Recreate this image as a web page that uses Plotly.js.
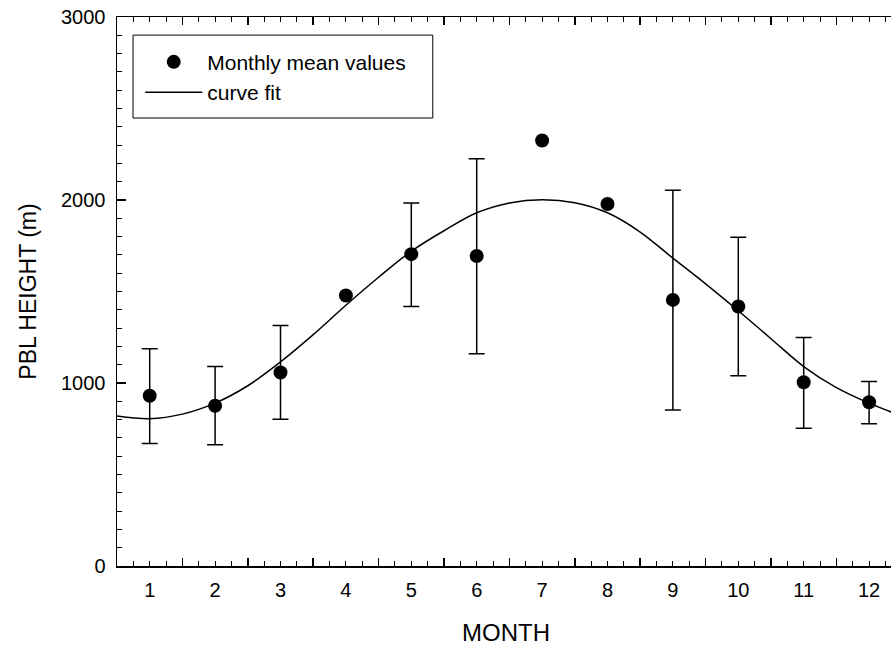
<!DOCTYPE html>
<html>
<head>
<meta charset="utf-8">
<script src="https://cdn.plot.ly/plotly-3.0.1.min.js"></script>
<style>
html,body{margin:0;padding:0;background:#fff;overflow:hidden;}
#chart{width:891px;height:647px;}
</style>
</head>
<body>
<div id="chart"></div>
<script>
// Monthly mean PBL height (m) with error bars (absolute upper / lower ends)
var months      = [1, 2, 3, 4, 5, 6, 7, 8, 9, 10, 11, 12];
var meanValues  = [930, 876, 1057, 1478, 1704, 1694, 2325, 1978, 1454, 1418, 1004, 895];
var errUpper    = [1187, 1090, 1314, null, 1984, 2226, null, null, 2053, 1796, 1249, 1008];
var errLower    = [669, 662, 802, null, 1418, 1160, null, null, 852, 1039, 753, 777];

// Curve fit
var curveMonths = [0.5, 1, 1.5, 2, 2.5, 3, 3.5, 4, 4.5, 5, 5.5, 6, 6.5, 7, 7.5, 8, 8.5, 9, 9.5, 10, 10.5, 11, 11.5, 12, 12.35];
var curveValues = [820, 805, 830, 890, 985, 1115, 1264, 1425, 1578, 1720, 1832, 1930, 1984, 2002, 1985, 1930, 1825, 1682, 1542, 1395, 1242, 1090, 975, 890, 840];

var monthTickLabels = ['1','2','3','4','5','6','7','8','9','10','11','12'];
var yTickVals = [0, 1000, 2000, 3000];
var yTickLabels = ['0', '1000', '2000', '3000'];
var xTitle = 'MONTH';
var yTitle = 'PBL HEIGHT (m)';

// points with error bars
var ebX = [], ebY = [], ebPlus = [], ebMinus = [];
for (var i = 0; i < months.length; i++) {
  if (errUpper[i] !== null) {
    ebX.push(months[i]);
    ebY.push(meanValues[i]);
    ebPlus.push(errUpper[i] - meanValues[i]);
    ebMinus.push(meanValues[i] - errLower[i]);
  }
}

var FONT = 'Liberation Sans, Arial, sans-serif';
var xRange = [0.5, 12.335];

var traces = [
  {
    x: ebX, y: ebY, type: 'scatter', mode: 'markers',
    xaxis: 'x2', yaxis: 'y',
    marker: {size: 1, color: 'rgba(0,0,0,0)'},
    error_y: {type: 'data', symmetric: false, array: ebPlus, arrayminus: ebMinus,
              color: '#000', thickness: 1.5, width: 8},
    showlegend: false, hoverinfo: 'skip'
  },
  {
    x: months, y: meanValues, type: 'scatter', mode: 'markers',
    name: 'Monthly mean values',
    marker: {size: 14, color: '#000', symbol: 'circle'}
  },
  {
    x: curveMonths, y: curveValues, type: 'scatter', mode: 'lines',
    name: 'curve fit',
    line: {color: '#000', width: 1.5, shape: 'spline', smoothing: 1}
  }
];

var layout = {
  width: 891, height: 647,
  margin: {l: 117, r: 0, t: 17, b: 81},
  paper_bgcolor: '#fff', plot_bgcolor: '#fff',
  font: {family: FONT, color: '#000', size: 20},
  showlegend: true,
  xaxis: {
    range: xRange, showgrid: false, zeroline: false, showline: false,
    tickmode: 'array', tickvals: months, ticktext: monthTickLabels,
    ticks: '', ticklabelstandoff: 10,
    tickfont: {family: FONT, size: 20, color: '#000'},
    automargin: false
  },
  xaxis2: {
    overlaying: 'x', anchor: 'y', side: 'bottom',
    range: xRange, showgrid: false, zeroline: false,
    showline: true, linecolor: '#000', linewidth: 1.5, mirror: 'ticks',
    tickmode: 'linear', tick0: 0.5, dtick: 1,
    ticks: 'inside', ticklen: 8, tickwidth: 1.5, tickcolor: '#000',
    showticklabels: false,
    minor: {tick0: 0.5, dtick: 0.25, ticks: 'inside', ticklen: 5, tickwidth: 1, tickcolor: '#000', showgrid: false},
    automargin: false
  },
  yaxis: {
    range: [0, 3000], showgrid: false, zeroline: false,
    showline: true, linecolor: '#000', linewidth: 1.5, mirror: false,
    tickmode: 'array', tickvals: yTickVals, ticktext: yTickLabels,
    ticks: 'inside', ticklen: 9, tickwidth: 1.5, tickcolor: '#000',
    ticklabelstandoff: 6,
    minor: {tickmode: 'linear', tick0: 0, dtick: 100, ticks: 'inside', ticklen: 5, tickwidth: 1, tickcolor: '#000', showgrid: false},
    tickfont: {family: FONT, size: 20, color: '#000'},
    title: {text: yTitle, font: {family: FONT, size: 23, color: '#000'}, standoff: 18},
    automargin: false
  },
  legend: {
    x: 0.03, y: 0.955, xanchor: 'left', yanchor: 'top',
    bgcolor: 'rgba(0,0,0,0)', borderwidth: 0,
    font: {family: FONT, size: 21, color: '#000'},
    itemwidth: 57, traceorder: 'normal'
  },
  annotations: [{
    text: xTitle, xref: 'paper', yref: 'paper', x: 0.5026, y: -0.122,
    xanchor: 'center', yanchor: 'middle', showarrow: false,
    font: {family: FONT, size: 24, color: '#000'}
  }],
  shapes: [{
    type: 'rect', xref: 'paper', yref: 'paper',
    x0: 0.0207, x1: 0.408, y0: 0.816, y1: 0.967,
    line: {color: '#000', width: 1}, fillcolor: 'rgba(0,0,0,0)', layer: 'above'
  }]
};

Plotly.newPlot('chart', traces, layout, {displayModeBar: false, staticPlot: true});
</script>
</body>
</html>
